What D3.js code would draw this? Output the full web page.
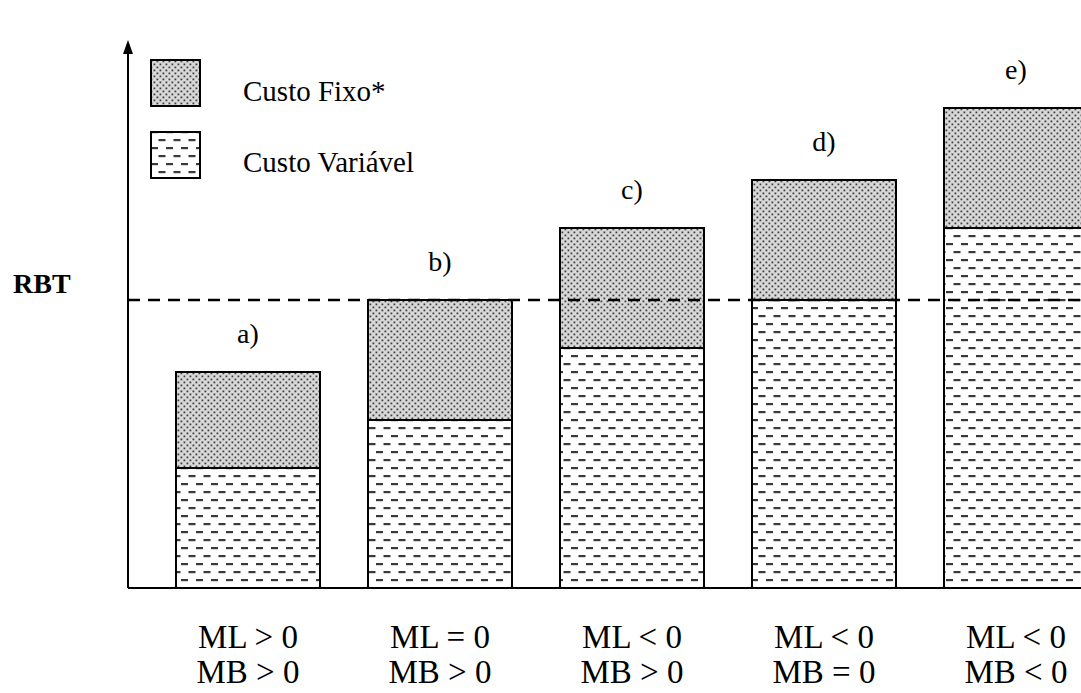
<!DOCTYPE html>
<html><head><meta charset="utf-8">
<script src="https://cdn.jsdelivr.net/npm/d3@7"></script>
<style>body{margin:0;background:#fff}svg{display:block}text{font-family:"Liberation Serif","Times New Roman",serif}</style>
</head><body>
<svg id="chart" width="1081" height="693"></svg>
<script>
const categories = ["a)", "b)", "c)", "d)", "e)"];
const variableCost = [5, 7, 10, 12, 15];
const fixedCost = [4, 5, 5, 5, 5];
const rbt = 12;
const mlLabels = ["ML > 0", "ML = 0", "ML < 0", "ML < 0", "ML < 0"];
const mbLabels = ["MB > 0", "MB > 0", "MB > 0", "MB = 0", "MB < 0"];
const legendLabels = ["Custo Fixo*", "Custo Variável"];

const svg = d3.select("#chart");
const defs = svg.append("defs");

const pd = defs.append("pattern").attr("id","dots").attr("patternUnits","userSpaceOnUse")
  .attr("width",6).attr("height",6);
pd.append("rect").attr("width",6).attr("height",6).attr("fill","#d8d8d8");
[[0,0],[3,3]].forEach(([x,y])=>pd.append("rect").attr("x",x+0.5).attr("y",y+0.5).attr("width",1.8).attr("height",1.8).attr("fill","#404040"));
const pv = defs.append("pattern").attr("id","dashes").attr("patternUnits","userSpaceOnUse")
  .attr("width",15).attr("height",16);
pv.append("rect").attr("width",15).attr("height",16).attr("fill","#fff");
pv.append("rect").attr("x",1).attr("y",3).attr("width",7).attr("height",2.2).attr("fill","#3a3a3a");
pv.append("rect").attr("x",8.5).attr("y",11).attr("width",7).attr("height",2.2).attr("fill","#3a3a3a");
pv.append("rect").attr("x",-6.5).attr("y",11).attr("width",7).attr("height",2.2).attr("fill","#3a3a3a");

const x = d3.scaleBand().domain(categories).range([152, 1112]).paddingInner(0.25).paddingOuter(0.125);
const y = d3.scaleLinear().domain([0, 24]).range([588, 12]);

const data = categories.map((c,i)=>({c, v: variableCost[i], f: fixedCost[i]}));

const g = svg.append("g");
g.selectAll(".var").data(data).join("rect")
  .attr("x", d=>x(d.c)).attr("width", x.bandwidth())
  .attr("y", d=>y(d.v)).attr("height", d=>y(0)-y(d.v))
  .attr("fill","url(#dashes)").attr("stroke","#000").attr("stroke-width",2);
g.selectAll(".fix").data(data).join("rect")
  .attr("x", d=>x(d.c)).attr("width", x.bandwidth())
  .attr("y", d=>y(d.v+d.f)).attr("height", d=>y(d.v)-y(d.v+d.f))
  .attr("fill","url(#dots)").attr("stroke","#000").attr("stroke-width",2);

g.selectAll(".cl").data(data).join("text")
  .attr("x", d=>x(d.c)+x.bandwidth()/2).attr("y", d=>y(d.v+d.f)-29)
  .attr("text-anchor","middle").attr("font-size",28)
  .text(d=>d.c);

svg.append("line").attr("x1",128).attr("x2",1081).attr("y1",y(rbt)).attr("y2",y(rbt))
  .attr("stroke","#000").attr("stroke-width",2.5).attr("stroke-dasharray","12,8");
svg.append("text").attr("x",13).attr("y",293)
  .attr("font-size",28).attr("font-weight","bold").text("RBT");

svg.append("line").attr("x1",128).attr("x2",1081).attr("y1",y(0)).attr("y2",y(0)).attr("stroke","#000").attr("stroke-width",2);
svg.append("line").attr("x1",128).attr("x2",128).attr("y1",y(0)).attr("y2",52).attr("stroke","#000").attr("stroke-width",2);
svg.append("path").attr("d","M128,40 L123,54 L133,54 Z").attr("fill","#000");

g.selectAll(".ml").data(data).join("text")
  .attr("x",(d)=>x(d.c)+x.bandwidth()/2).attr("y",648)
  .attr("text-anchor","middle").attr("font-size",33)
  .text((d,i)=>mlLabels[i]);
g.selectAll(".mb").data(data).join("text")
  .attr("x",(d)=>x(d.c)+x.bandwidth()/2).attr("y",683)
  .attr("text-anchor","middle").attr("font-size",33)
  .text((d,i)=>mbLabels[i]);

const leg = svg.append("g");
const legFills = ["url(#dots)","url(#dashes)"];
const legBase = [101, 172];
legendLabels.forEach((t,i)=>{
  const yy = 60 + i*72;
  leg.append("rect").attr("x",151).attr("y",yy).attr("width",49).attr("height",46)
    .attr("fill",legFills[i]).attr("stroke","#000").attr("stroke-width",2);
  leg.append("text").attr("x",243).attr("y",legBase[i]).attr("font-size",29).text(t);
});
</script>
</body></html>
